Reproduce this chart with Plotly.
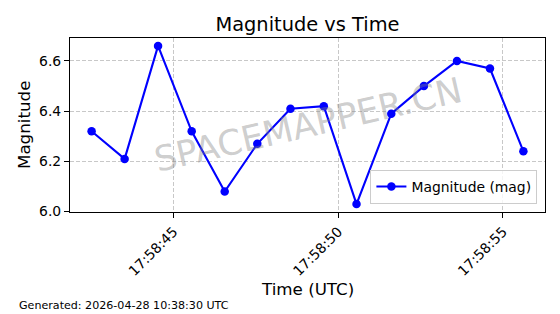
import plotly.graph_objects as go

# ---- data ----
date_str = "2026-04-28"
times = ["17:58:42.508", "17:58:43.511", "17:58:44.526", "17:58:45.547", "17:58:46.550",
         "17:58:47.540", "17:58:48.547", "17:58:49.559", "17:58:50.553", "17:58:51.608",
         "17:58:52.599", "17:58:53.602", "17:58:54.605", "17:58:55.620"]
magnitudes = [6.32, 6.21, 6.66, 6.32, 6.08, 6.27, 6.41, 6.42, 6.03, 6.39, 6.50, 6.60, 6.57, 6.24]
x_tick_times = ["17:58:45", "17:58:50", "17:58:55"]
y_ticks = [6.0, 6.2, 6.4, 6.6]
x_range_times = ["17:58:41.852", "17:58:56.276"]
y_range = [5.9985, 6.6915]

title_text = "Magnitude vs Time"
x_label = "Time (UTC)"
y_label = "Magnitude"
series_name = "Magnitude (mag)"
watermark = "SPACEMAPPER.CN"
footer = "Generated: 2026-04-28 10:38:30 UTC"

xs = [f"{date_str} {t}" for t in times]
FONT = "DejaVu Sans"

W, H = 560, 314
ML, MR, MT, MB = 70, 15, 38, 102
PW, PH = W - ML - MR, H - MT - MB


def px_to_paper_x(px):
    return (px - ML) / PW


def px_to_paper_y(py):
    return (H - MB - py) / PH


fig = go.Figure()
fig.add_trace(go.Scatter(
    x=xs, y=magnitudes, mode="lines+markers", name=series_name,
    line=dict(color="#0000ff", width=2.1),
    marker=dict(color="#0000ff", size=8.5),
))

axis_common = dict(
    showline=True, linecolor="black", linewidth=1.1, mirror=True,
    ticks="outside", ticklen=5, tickwidth=1.1, tickcolor="black",
    showgrid=True, gridcolor="rgba(176,176,176,0.7)", gridwidth=1.1, griddash="4px,2px",
    zeroline=False,
    tickfont=dict(family=FONT, size=13.9, color="black"),
)

fig.update_layout(
    width=W, height=H, autosize=False,
    margin=dict(l=ML, r=MR, t=MT, b=MB, pad=0),
    paper_bgcolor="white", plot_bgcolor="white",
    font=dict(family=FONT, color="black"),
    title=dict(text=title_text, x=0.5, xref="paper", xanchor="center",
               y=1 - 24 / H, yref="container", yanchor="middle",
               font=dict(family=FONT, size=19.4, color="black")),
    xaxis=dict(type="date",
               range=[f"{date_str} {t}" for t in x_range_times],
               tickmode="array",
               tickvals=[f"{date_str} {t}" for t in x_tick_times],
               ticktext=x_tick_times,
               tickangle=-45,
               **axis_common),
    yaxis=dict(range=y_range, tickmode="array", tickvals=y_ticks,
               ticktext=[f"{v:.1f}" for v in y_ticks],
               **axis_common),
    legend=dict(x=0.984, xanchor="right", y=0.046, yanchor="bottom",
                bgcolor="rgba(255,255,255,0.8)", bordercolor="#cccccc", borderwidth=1,
                font=dict(family=FONT, size=13.9, color="black")),
    showlegend=True,
)

# watermark
fig.add_annotation(text=watermark, x=0.5, y=0.5, xref="paper", yref="paper",
                   showarrow=False, textangle=-13,
                   font=dict(family=FONT, size=35, color="rgba(128,128,128,0.4)"))
# axis titles
fig.add_annotation(text=x_label, x=0.5, xref="paper", y=px_to_paper_y(289), yref="paper",
                   showarrow=False, xanchor="center", yanchor="middle",
                   font=dict(family=FONT, size=16.7, color="black"))
fig.add_annotation(text=y_label, x=px_to_paper_x(24), xref="paper", y=0.5, yref="paper",
                   showarrow=False, textangle=-90, xanchor="center", yanchor="middle",
                   font=dict(family=FONT, size=16.7, color="black"))
fig.add_annotation(text=footer, x=px_to_paper_x(17), xref="paper", xanchor="left",
                   y=px_to_paper_y(305), yref="paper", yanchor="middle", showarrow=False,
                   font=dict(family=FONT, size=11.1, color="black"))

fig.write_html("out.html")
